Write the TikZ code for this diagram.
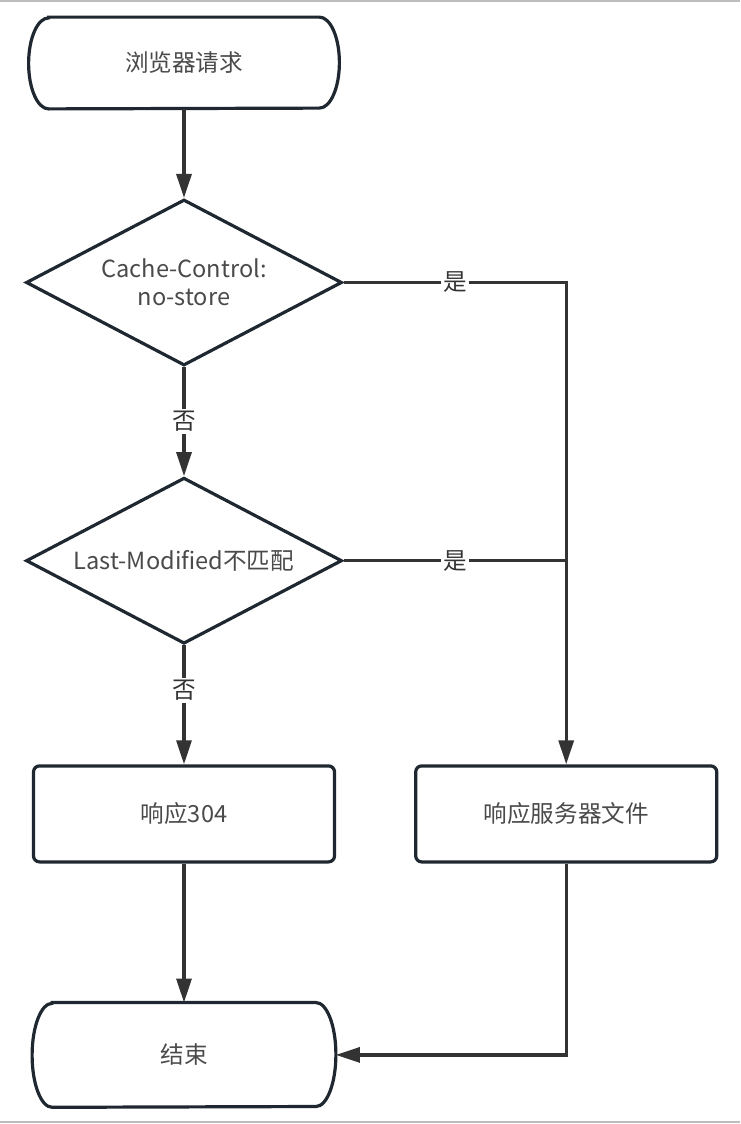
\documentclass[tikz,border=0pt]{standalone}
\usepackage{fontspec}
\setmainfont{Noto Sans CJK SC}
\usepackage{xcolor}
\usepackage{tikz}
\usetikzlibrary{shapes.geometric,arrows.meta,positioning}

\definecolor{shapeline}{HTML}{1F2830}
\definecolor{connline}{HTML}{333333}
\definecolor{labeltext}{HTML}{4A4A4A}
\definecolor{frameline}{HTML}{BDBDBD}

% capsule outline around a named node: #1 node, #2 half height
\newcommand{\capsule}[2]{%
  \draw[shapeline, line width=1.6pt]
    ([xshift=10pt]#1.north west) -- ([xshift=-10pt]#1.north east)
    arc[start angle=90, end angle=-90, x radius=10pt, y radius=#2]
    -- ([xshift=10pt]#1.south west)
    arc[start angle=270, end angle=90, x radius=10pt, y radius=#2] -- cycle;}

\begin{document}
\begin{tikzpicture}[
  x=0.5pt, y=-0.5pt,
  font=\fontsize{11.8}{14}\selectfont, text=labeltext,
  terminal/.style={rectangle, minimum width=155pt, minimum height=45.5pt, text centered},
  decision/.style={diamond, draw=shapeline, line width=1.6pt, minimum width=158pt, minimum height=83pt, inner sep=0pt, aspect=2, align=center},
  procbox/.style={rectangle, draw=shapeline, line width=1.6pt, rounded corners=3pt, minimum width=150.5pt, minimum height=48pt, text centered},
  arrow/.style={-{Triangle[length=12pt, width=7.5pt]}, connline, line width=1.6pt},
  link/.style={connline, line width=1.6pt},
  tag/.style={fill=white, inner sep=1pt}
]
\useasboundingbox (0,0) rectangle (740,1124);
\draw[frameline, line width=1pt] (0,1) -- (740,1);
\draw[frameline, line width=1pt] (0,1122) -- (740,1122);

\node[terminal] (start) at (184,63) {浏览器请求};
\node[decision, below=44.5pt of start] (nostore) {Cache-Control:\\no-store};
\node[decision, below=54.5pt of nostore] (lastmod) {Last-Modified不匹配};
\node[procbox, below=59.5pt of lastmod] (resp304) {响应304};
\node[procbox, right=39pt of resp304] (respfile) {响应服务器文件};
\node[terminal, minimum width=151.5pt, minimum height=52pt, below=69.5pt of resp304] (finish) {结束};

\capsule{start}{22.75pt}
\capsule{finish}{26pt}

\draw[arrow] (start) -- (nostore);
\draw[arrow] (nostore) -- node[tag]{否} (lastmod);
\draw[arrow] (lastmod) -- node[tag, pos=0.38]{否} (resp304);
\draw[arrow] (nostore.east) -- node[tag]{是} (nostore.east -| respfile.north) -- (respfile.north);
\draw[link] (lastmod.east) -- node[tag]{是} (lastmod.east -| respfile.north);
\draw[arrow] (resp304) -- (finish);
\draw[arrow] (respfile.south) |- (finish.east);
\end{tikzpicture}
\end{document}
